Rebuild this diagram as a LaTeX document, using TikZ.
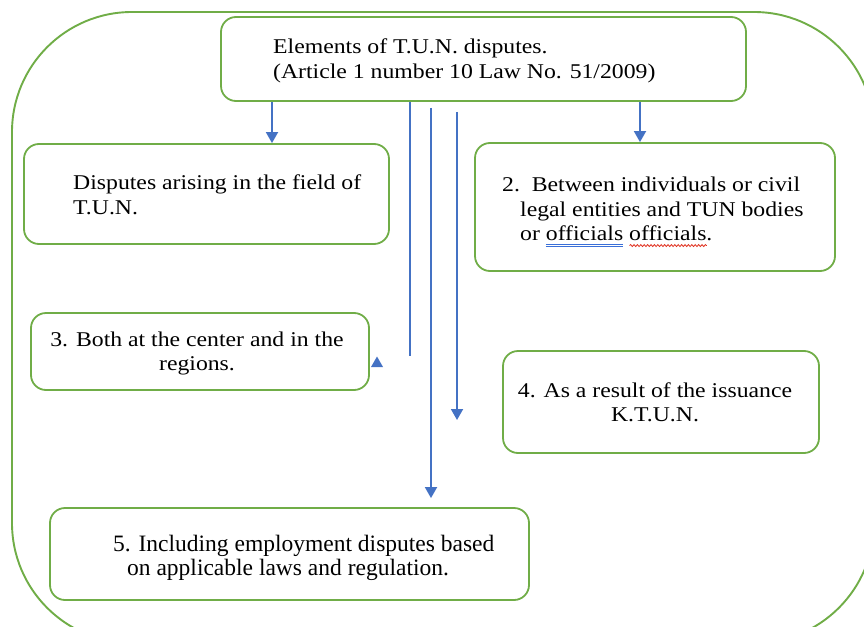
\documentclass[tikz,border=0pt]{standalone}
\usepackage{fontspec}
\setmainfont{Liberation Serif}[FakeStretch=1.13]
\newfontfamily\plainserif{Liberation Serif}
\usetikzlibrary{arrows.meta,decorations.pathmorphing}
\definecolor{frameg}{HTML}{70AD47}
\definecolor{arrblue}{HTML}{4472C4}
\definecolor{ulblue}{HTML}{3A6FD8}
\definecolor{ulred}{HTML}{E0301E}
\newlength\ulw
\newsavebox\ulbox
\newcommand\dblul[1]{\sbox\ulbox{#1}\setlength\ulw{\wd\ulbox}\leavevmode\rlap{\color{ulblue}\rule[-3.8pt]{\ulw}{1pt}}\rlap{\color{ulblue}\rule[-5.8pt]{\ulw}{1pt}}\usebox\ulbox}
\newcommand\wavyul[1]{\sbox\ulbox{#1}\setlength\ulw{\wd\ulbox}\leavevmode\rlap{\tikz[baseline=0pt]\draw[ulred,line width=0.8pt,decorate,decoration={snake,amplitude=1pt,segment length=3.4pt}] (0pt,-4.8pt) -- (\ulw,-4.8pt);}\usebox\ulbox}
\tikzset{
  box/.style={draw=frameg, line width=1.8pt, rounded corners=15pt, fill=white},
  frame/.style={draw=frameg, line width=1.9pt, rounded corners=120pt},
  txt/.style={inner sep=0pt, anchor=north west, align=left, font=\fontsize{21}{24.5}\selectfont},
  ctxt/.style={inner sep=0pt, anchor=north, align=center, font=\fontsize{21}{24}\selectfont},
  arr/.style={draw=arrblue, line width=1.8pt, -{Triangle[width=12pt,length=11pt]}},
  ln/.style={draw=arrblue, line width=1.8pt},
}
\begin{document}
\begin{tikzpicture}[x=1pt,y=-1pt]
\useasboundingbox (0,0) rectangle (864,626);
\begin{scope}
  \clip (0,0) rectangle (864,626);
  \draw[frame] (12,12) rectangle (874,643);
\end{scope}

% boxes
\node[box, minimum width=525pt, minimum height=84pt] (b0) at (483.5,59) {};
\node[box, minimum width=365pt, minimum height=100pt] (b1) at (206.5,194) {};
\node[box, minimum width=360pt, minimum height=128pt] (b2) at (655,207) {};
\node[box, minimum width=338pt, minimum height=77pt] (b3) at (200,351.5) {};
\node[box, minimum width=316pt, minimum height=102pt] (b4) at (661,402) {};
\node[box, minimum width=479pt, minimum height=92pt] (b5) at (289.5,554) {};

% texts
\node[txt] (t0) at (273,39) {Elements of T.U.N. disputes.\\(Article 1 number 10 Law No. 51/2009)};
\node[txt] (t1) at (73,175) {Disputes arising in the field of\\T.U.N.};
\node[txt] (t2) at (520,177) {\hspace*{-18pt}2.\ \ Between individuals or civil\\legal entities and TUN bodies\\or \dblul{officials}\ \wavyul{officials}.};
\node[ctxt] (t3) at (197,332) {3. Both at the center and in the\\regions.};
\node[ctxt] (t4) at (655,383) {4. As a result of the issuance\\K.T.U.N.};
\node[txt, font=\plainserif\fontsize{23.5}{24}\selectfont] (t5) at (113,535) {5. Including employment disputes based\\\hspace*{14pt}on applicable laws and regulation.};

% connectors
\coordinate (x1) at (272,0);
\coordinate (x2) at (640,0);
\coordinate (x3) at (410,0);
\coordinate (x4) at (431,0);
\coordinate (x5) at (457,0);
\coordinate (e3) at (410,356);
\coordinate (e5) at (460,420);
\draw[arr] (b0.south -| x1) -- (b1.north -| x1);
\draw[arr] (b0.south -| x2) -- (b2.north -| x2);
\draw[ln] (b0.south -| x3) -- (e3);
\draw[arr] ([yshift=-6pt]b0.south -| x4) -- ([yshift=9pt]b5.north -| x4);
\draw[arr] ([yshift=-10pt]b0.south -| x5) -- (x5 |- e5);
\coordinate (tri) at (377,362);
\fill[arrblue] ([shift={(-6pt,-5pt)}]tri) -- ([shift={(6pt,-5pt)}]tri) -- ([shift={(0pt,5.5pt)}]tri) -- cycle;
\end{tikzpicture}
\end{document}
